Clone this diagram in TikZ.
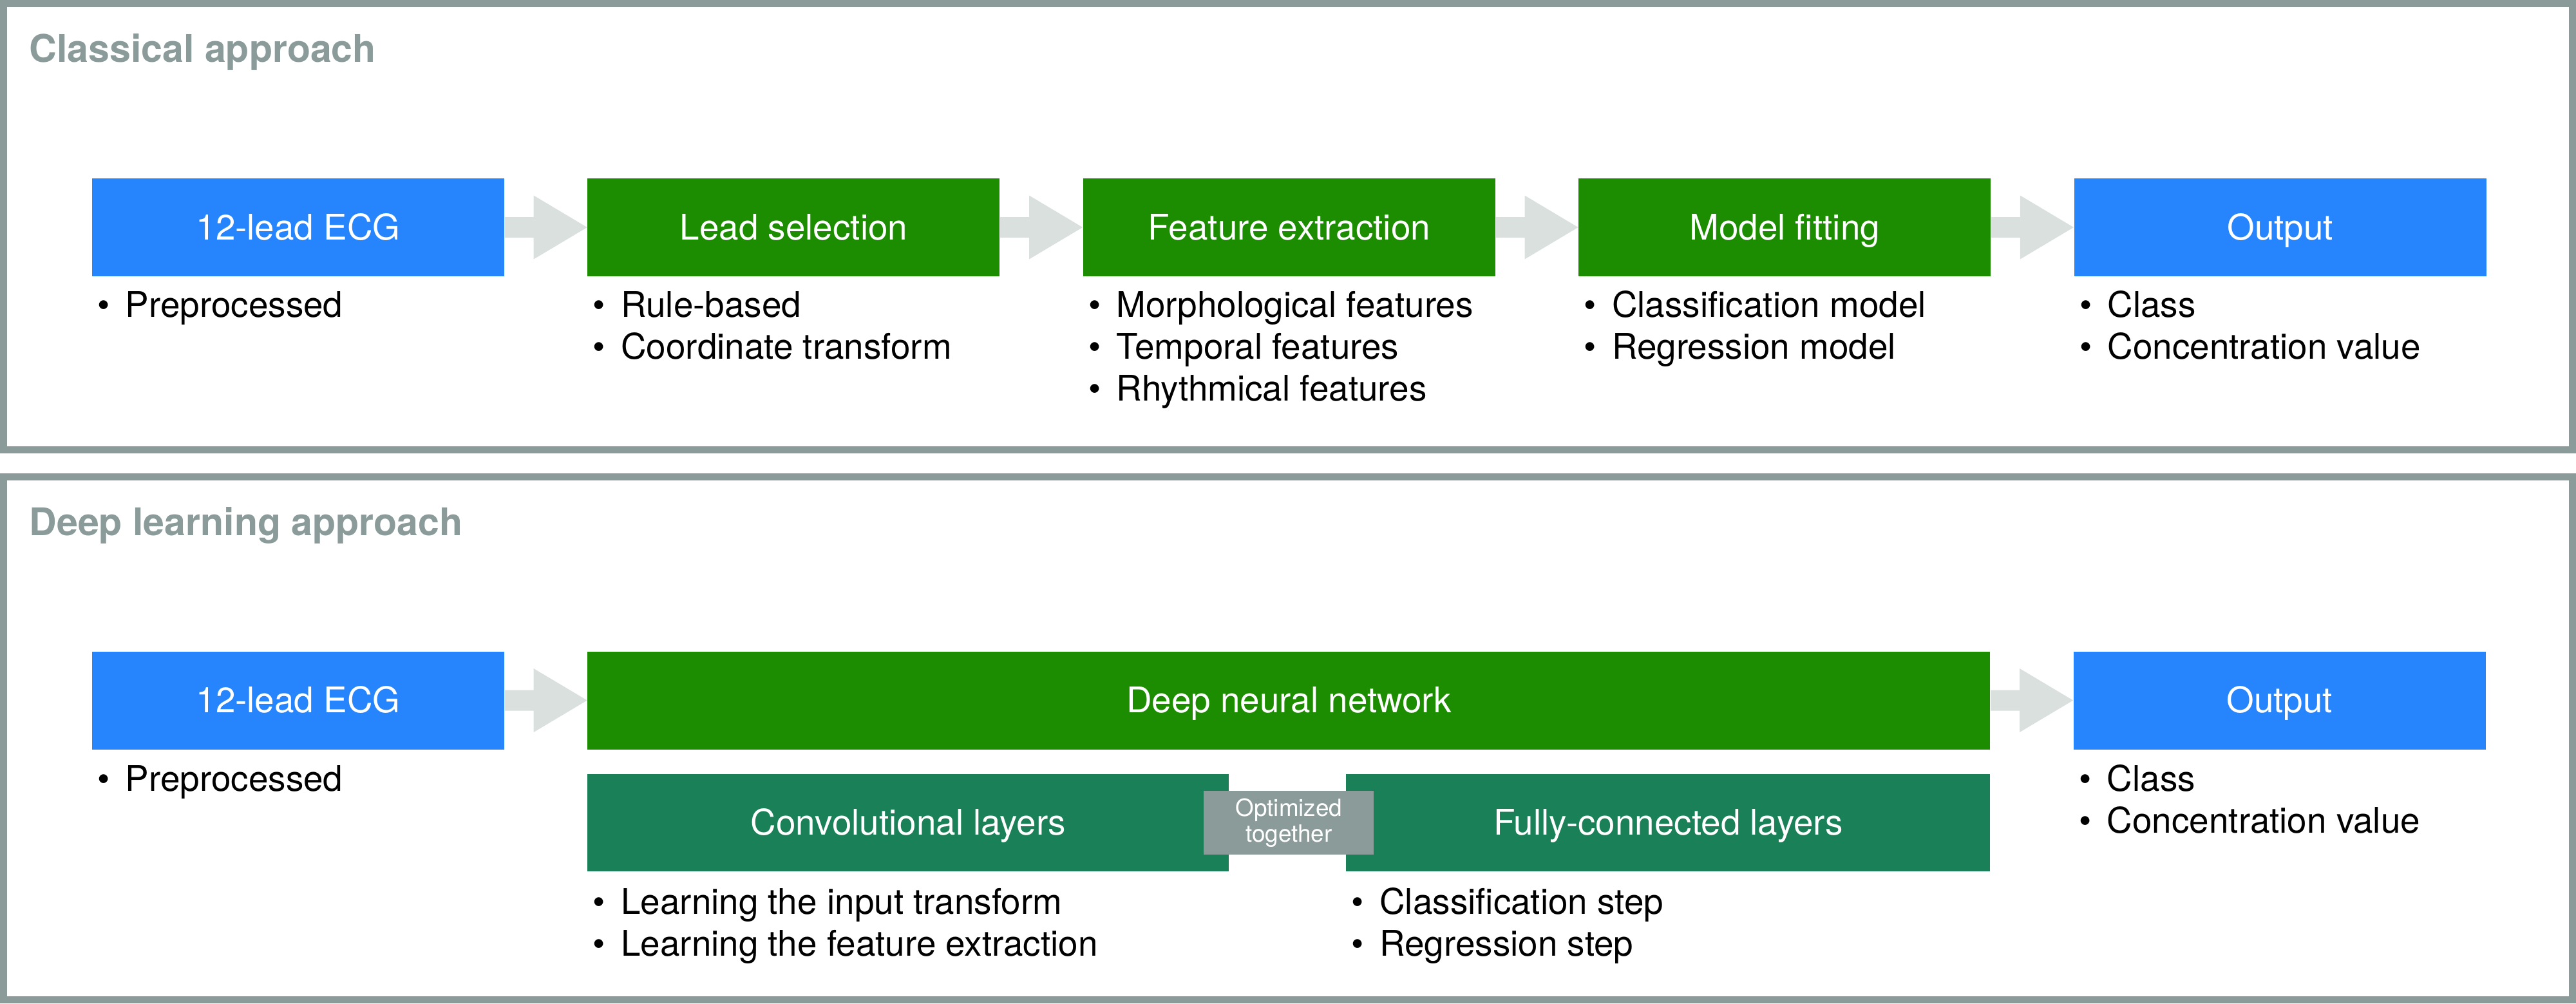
\documentclass[tikz,border=0pt]{standalone}
\usepackage{fontspec}
\setmainfont{TeX Gyre Heros}
\usetikzlibrary{positioning,calc}

\definecolor{framegray}{RGB}{138,155,154}
\definecolor{arrowgray}{RGB}{217,224,222}
\definecolor{ecgblue}{RGB}{38,132,252}
\definecolor{stepgreen}{RGB}{28,140,0}
\definecolor{layergreen}{RGB}{25,128,88}

\tikzset{
  panel/.style={draw=framegray, line width=1.1mm},
  paneltitle/.style={anchor=base west, inner sep=0pt, text=framegray, font=\fontsize{16.8}{20}\selectfont\bfseries},
  stagebox/.style={fill=#1, text=white, minimum width=6.4cm, minimum height=1.52cm, inner sep=0pt, text height=0.38cm, text depth=0pt, font=\fontsize{15.6}{18.5}\selectfont},
  bullets/.style={anchor=base west, inner sep=0pt, font=\fontsize{15.6}{18.5}\selectfont},
  jointbox/.style={fill=framegray, text=white, minimum width=2.64cm, minimum height=0.99cm, inner sep=0pt, align=center, font=\fontsize{10.5}{11.4}\selectfont},
}
\newcommand{\bitem}{\makebox[0.435cm][l]{•}}
\newcommand{\bline}[1]{\hbox{\bitem #1}}
\newcommand{\flowarrow}[2]{%
  \fill[arrowgray] ($(#1.east)+(0,0.16)$) -- ++(0.45,0) -- ++(0,0.335) -- (#2.west)
    -- ($(#1.east)+(0.45,-0.495)$) -- ++(0,0.335) -- ($(#1.east)+(0,-0.16)$) -- cycle;}

\begin{document}
\begin{tikzpicture}
\useasboundingbox (0,0) rectangle (40,-15.58);
\draw [panel] (0.055,-0.055) rectangle (39.945,-6.985);
\draw [panel] (0.055,-7.405) rectangle (39.945,-15.525);
\node [paneltitle] (classic) at (0.45,-0.96) {Classical approach};
\node [paneltitle] (deep) at (0.45,-8.31) {Deep learning approach};
% classical pipeline
\node [stagebox=ecgblue] (ecg1) at (4.63,-3.53) {12-lead ECG};
\node [stagebox=stepgreen, right=1.28cm of ecg1] (lead) {Lead selection};
\node [stagebox=stepgreen, right=1.28cm of lead] (feat) {Feature extraction};
\node [stagebox=stepgreen, right=1.28cm of feat] (fit) {Model fitting};
\node [stagebox=ecgblue, right=1.28cm of fit] (out1) {Output};
\flowarrow{ecg1}{lead}
\flowarrow{lead}{feat}
\flowarrow{feat}{fit}
\flowarrow{fit}{out1}
\node [bullets] (ecg1list) at ($(ecg1.south west)+(0.085,-0.63)$) {\vtop{\bline{Preprocessed}}};
\node [bullets] (leadlist) at ($(lead.south west)+(0.085,-0.63)$) {\vtop{\bline{Rule-based}\bline{Coordinate transform}}};
\node [bullets] (featlist) at ($(feat.south west)+(0.085,-0.63)$) {\vtop{\bline{Morphological features}\bline{Temporal features}\bline{Rhythmical features}}};
\node [bullets] (fitlist) at ($(fit.south west)+(0.085,-0.63)$) {\vtop{\bline{Classification model}\bline{Regression model}}};
\node [bullets] (out1list) at ($(out1.south west)+(0.085,-0.63)$) {\vtop{\bline{Class}\bline{Concentration value}}};
% deep learning pipeline
\node [stagebox=ecgblue] (ecg2) at (4.63,-10.875) {12-lead ECG};
\node [stagebox=stepgreen, minimum width=21.78cm, right=1.28cm of ecg2] (dnn) {Deep neural network};
\node [stagebox=ecgblue, right=1.28cm of dnn] (out2) {Output};
\flowarrow{ecg2}{dnn}
\flowarrow{dnn}{out2}
\node [stagebox=layergreen, minimum width=9.96cm, minimum height=1.51cm, below right=0.37cm and 0cm of dnn.south west] (conv) {Convolutional layers};
\node [stagebox=layergreen, minimum width=10cm, minimum height=1.51cm, below left=0.37cm and 0cm of dnn.south east] (fc) {Fully-connected layers};
\node [jointbox] (joint) at (dnn.center |- conv.center) {Optimized\\together};
\node [bullets] (ecg2list) at ($(ecg2.south west)+(0.085,-0.64)$) {\vtop{\bline{Preprocessed}}};
\node [bullets] (out2list) at ($(out2.south west)+(0.085,-0.64)$) {\vtop{\bline{Class}\bline{Concentration value}}};
\node [bullets] (convlist) at ($(conv.south west)+(0.085,-0.66)$) {\vtop{\bline{Learning the input transform}\bline{Learning the feature extraction}}};
\node [bullets] (fclist) at ($(fc.south west)+(0.085,-0.66)$) {\vtop{\bline{Classification step}\bline{Regression step}}};
\end{tikzpicture}
\end{document}
